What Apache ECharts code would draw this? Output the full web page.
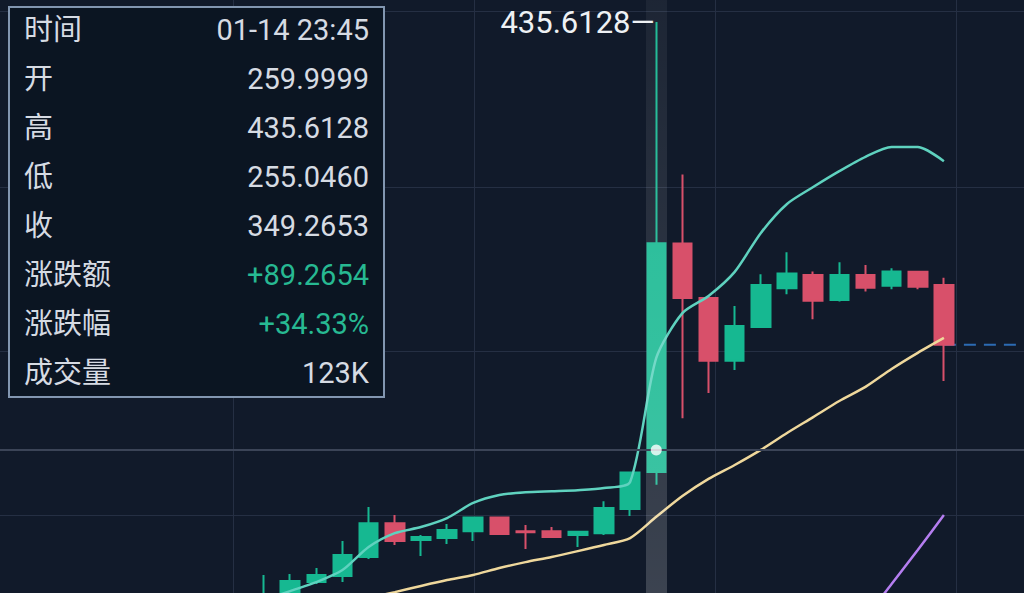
<!DOCTYPE html>
<html>
<head>
<meta charset="utf-8">
<script src="https://cdn.jsdelivr.net/npm/echarts@6/dist/echarts.min.js"></script>
<style>
html,body{margin:0;padding:0;background:#111a2a;overflow:hidden;}
#c{width:1024px;height:593px;}
</style>
</head>
<body>
<div id="c"></div>
<script>
// ---- data ----
// each candle: [open, close, low, high]
const candles = [
  [205.0, 212.0, 203.0, 219.8],
  [210.0, 217.4, 208.5, 220.2],
  [217.0, 219.8, 216.3, 222.5],
  [219.4, 227.6, 217.0, 233.0],
  [226.8, 240.0, 226.0, 246.3],
  [240.0, 233.0, 231.5, 243.2],
  [233.4, 234.6, 227.2, 235.4],
  [234.2, 237.3, 231.9, 239.7],
  [236.9, 242.2, 233.0, 242.4],
  [242.2, 235.8, 235.4, 242.4],
  [236.9, 236.5, 229.9, 239.3],
  [236.9, 234.6, 234.2, 238.5],
  [235.4, 236.7, 230.7, 236.9],
  [236.1, 245.9, 235.4, 248.6],
  [245.5, 259.8, 242.8, 260.1],
  [259.9999, 349.2653, 255.046, 435.6128],
  [349.2, 327.9, 281.0, 376.1],
  [327.9, 303.4, 290.8, 328.3],
  [303.4, 317.0, 299.8, 324.8],
  [316.6, 333.0, 316.2, 337.2],
  [331.7, 337.5, 329.4, 345.7],
  [336.9, 326.8, 319.6, 338.2],
  [327.1, 336.9, 326.5, 341.8],
  [336.9, 331.9, 330.4, 340.8],
  [332.7, 338.2, 331.3, 339.5],
  [338.1, 332.3, 331.3, 338.3],
  [333.0, 309.6, 295.5, 335.8]
];
const bollUpper = [210.0, 213.5, 217.0, 221.7, 230.7, 236.1, 238.5, 242.0, 247.9, 251.0,
  252.1, 252.5, 252.9, 253.7, 256.1, 304.5, 322.0, 328.7, 338.1, 353.3,
  364.6, 371.2, 377.4, 383.0, 386.8, 386.8, 381.3];
const bollMid = ['-', '-', '-', '-', 210.8, 213.1, 215.5, 217.8, 219.8, 222.5,
  224.8, 226.8, 229.1, 231.5, 234.2, 242.5, 250.6, 257.3, 262.7, 268.6,
  275.2, 281.4, 287.7, 293.2, 300.2, 306.5, 312.3];
const bollLower = ['-', '-', '-', '-', '-', '-', '-', '-', '-', '-',
  '-', '-', '-', '-', '-', '-', '-', '-', '-', '-',
  '-', '-', 190.5, 203.0, 216.3, 229.5, 243.2];

const tooltipLabels = ['时间', '开', '高', '低', '收', '涨跌额', '涨跌幅', '成交量'];
const selectedIndex = 15;
const selectedTime = '01-14 23:45';
const selectedVolume = '123K';
const touchValue = 268.6;

// ---- layout helpers ----
const PAD_LEFT = 10, PAD_RIGHT = 3;
const total = PAD_LEFT + candles.length + PAD_RIGHT;
const categories = Array.from({length: total}, (_, k) => 'k' + k);
function pad(arr, fill) {
  return [].concat(Array(PAD_LEFT).fill(fill), arr, Array(PAD_RIGHT).fill(fill));
}
const candleData = pad(candles, ['-', '-', '-', '-']);
const lastIdx = PAD_LEFT + candles.length - 1;
const lastClose = candles[candles.length - 1][1];
const priceLine = categories.map((_, k) => (k >= lastIdx ? lastClose : '-'));

let maxI = 0;
candles.forEach((c, i) => { if (c[3] > candles[maxI][3]) maxI = i; });
const maxHigh = candles[maxI][3];

const sel = candles[selectedIndex];
const chg = sel[1] - sel[0];
const pct = chg / sel[0] * 100;
const tooltipValues = [
  selectedTime,
  sel[0].toFixed(4),
  sel[3].toFixed(4),
  sel[2].toFixed(4),
  sel[1].toFixed(4),
  (chg >= 0 ? '+' : '') + chg.toFixed(4),
  (pct >= 0 ? '+' : '') + pct.toFixed(2) + '%',
  selectedVolume
];

const UP = '#16b891', DOWN = '#d8506a';
const GRIDC = '#252f43';
const FONT = 'Roboto, "Noto Sans CJK SC", sans-serif';

const ttChildren = [{
  type: 'rect', z: 100,
  shape: {x: 0, y: 0, width: 375, height: 390},
  style: {fill: '#0b1522', stroke: '#8296b0', lineWidth: 2}
}];
tooltipLabels.forEach((lab, r) => {
  const yy = 22.5 + 49.1 * r;
  ttChildren.push({
    type: 'text', x: 15, y: yy, z: 101,
    style: {text: lab, fill: '#d6dbe3', fontSize: 29, fontFamily: FONT,
      textAlign: 'left', textVerticalAlign: 'middle'}
  });
  const green = (r === 5 || r === 6);
  ttChildren.push({
    type: 'text', x: 360, y: yy, z: 101,
    style: {text: tooltipValues[r], fill: green ? '#27b992' : '#d6dbe3', fontSize: 29,
      fontFamily: FONT, textAlign: 'right', textVerticalAlign: 'middle'}
  });
});

const chart = echarts.init(document.getElementById('c'), null, {renderer: 'svg'});
chart.setOption({
  animation: false,
  backgroundColor: '#111a2a',
  grid: [
    {left: -10.575, width: 1046, top: 0, height: 1138.1, outerBoundsMode: 'none', containLabel: false},
    {left: 0, right: 0, top: 187, bottom: 78, outerBoundsMode: 'none'},
    {left: 0, right: 0, top: 11, height: 100, outerBoundsMode: 'none'},
    {left: 233, right: 68, top: 0, bottom: 0, outerBoundsMode: 'none'}
  ],
  xAxis: [
    {type: 'category', data: categories, boundaryGap: true, show: false, gridIndex: 0},
    {type: 'value', gridIndex: 1, show: false},
    {type: 'value', gridIndex: 2, position: 'top', show: true, min: 0, max: 1,
      axisLine: {show: true, onZero: false, lineStyle: {color: GRIDC, width: 1}},
      axisTick: {show: false}, axisLabel: {show: false}, splitLine: {show: false}},
    {type: 'value', gridIndex: 3, min: 0, max: 3, interval: 1, show: true,
      axisLine: {show: false}, axisTick: {show: false}, axisLabel: {show: false},
      splitLine: {show: true, lineStyle: {color: GRIDC, width: 1}}}
  ],
  yAxis: [
    {type: 'value', min: 0, max: 444.2, show: false, gridIndex: 0, scale: false},
    {type: 'value', gridIndex: 1, min: 0, max: 2, interval: 1, show: true,
      axisLine: {show: false}, axisTick: {show: false}, axisLabel: {show: false},
      splitLine: {show: true, lineStyle: {color: GRIDC, width: 1}}},
    {type: 'value', gridIndex: 2, show: false, min: 0, max: 1},
    {type: 'value', gridIndex: 3, show: false}
  ],
  series: [
    {
      type: 'line', name: 'price', data: priceLine, z: 1, silent: true,
      showSymbol: false, symbol: 'none',
      lineStyle: {color: '#2c6bb3', width: 2, type: [12, 8]},
      markLine: {
        silent: true, symbol: ['none', 'none'], label: {show: false},
        data: [
          {xAxis: categories[PAD_LEFT + selectedIndex],
            lineStyle: {width: 21, type: 'solid', color: {
              type: 'linear', x: 0, y: 0, x2: 0, y2: 593, global: true,
              colorStops: [{offset: 0, color: 'rgba(255,255,255,0.05)'},
                           {offset: 1, color: 'rgba(255,255,255,0.18)'}]}}},
          {yAxis: touchValue, lineStyle: {width: 2, type: 'solid', color: '#3b4457'}}
        ]
      }
    },
    {
      type: 'candlestick', name: 'K', data: candleData, z: 2, barWidth: 19,
      itemStyle: {color: UP, color0: DOWN, borderColor: UP, borderColor0: DOWN, borderWidth: 2},
      markPoint: {
        silent: true,
        data: [{
          coord: [categories[PAD_LEFT + maxI], maxHigh], value: maxHigh,
          symbol: 'rect', symbolSize: [1, 1], itemStyle: {color: 'rgba(0,0,0,0)'},
          label: {show: true, position: 'left', distance: 1,
            formatter: () => maxHigh.toFixed(4) + '—',
            color: '#eef1f4', fontSize: 31, fontFamily: FONT}
        }]
      }
    },
    {type: 'line', name: 'UP', data: pad(bollUpper, '-'), z: 3, showSymbol: false, symbol: 'none',
      smooth: 0.25, lineStyle: {color: '#5fd2bf', width: 2.5}},
    {type: 'line', name: 'MB', data: pad(bollMid, '-'), z: 3, showSymbol: false, symbol: 'none',
      smooth: 0.25, lineStyle: {color: '#efd89c', width: 2.5}},
    {type: 'line', name: 'DN', data: pad(bollLower, '-'), z: 3, showSymbol: false, symbol: 'none',
      smooth: 0.25, lineStyle: {color: '#b57ef0', width: 2.5}},
    {type: 'scatter', name: 'touch', data: [[categories[PAD_LEFT + selectedIndex], touchValue]],
      z: 10, symbol: 'circle', symbolSize: 11, itemStyle: {color: '#ffffff'}, silent: true}
  ],
  graphic: [{
    type: 'group', left: 8, top: 6, z: 100,
    children: ttChildren
  }]
});
</script>
</body>
</html>
